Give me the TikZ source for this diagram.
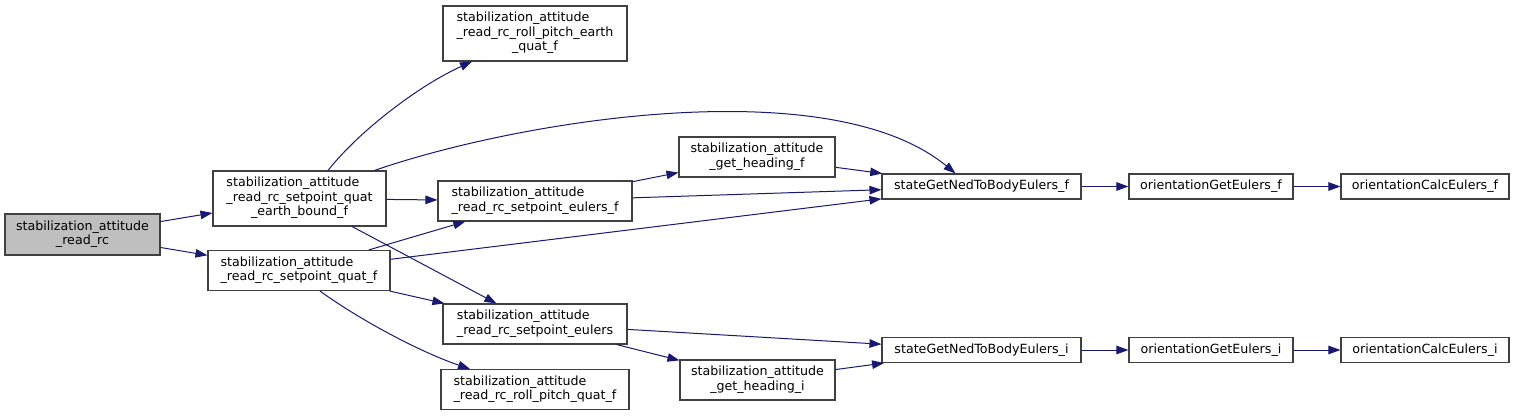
\documentclass[tikz,border=0pt]{standalone}
\usepackage{fontspec}
\setmainfont{DejaVu Sans}
\usetikzlibrary{arrows.meta}
\definecolor{edgeblue}{RGB}{25,25,112}
\definecolor{boxgray}{RGB}{191,191,191}
\newcommand{\twolines}[2]{\begin{tabular}{@{}l@{}}#1\\\multicolumn{1}{@{}c@{}}{#2}\end{tabular}}
\newcommand{\threelines}[3]{\begin{tabular}{@{}l@{}}#1\\#2\\\multicolumn{1}{@{}c@{}}{#3}\end{tabular}}
\begin{document}
\begin{tikzpicture}[x=1pt,y=-1pt,
  fn/.style={draw=black!75, line width=1.1pt, inner sep=0pt, fill=white,
    font=\fontsize{12.65}{14.5}\selectfont, text=black},
  conn/.style={draw=edgeblue, line width=1pt, -{Triangle[length=12pt,width=8.5pt]}}]
\useasboundingbox (0,0) rectangle (1515,417);

\node[fn, fill=boxgray, minimum width=155pt, minimum height=41pt] (A) at (82.5,234.5)
  {\twolines{stabilization\_attitude}{\_read\_rc}};
\node[fn, minimum width=173pt, minimum height=55pt] (B) at (299.5,198.5)
  {\threelines{stabilization\_attitude}{\_read\_rc\_setpoint\_quat}{\_earth\_bound\_f}};
\node[fn, minimum width=182pt, minimum height=40pt] (C) at (299,270.5)
  {\twolines{stabilization\_attitude}{\_read\_rc\_setpoint\_quat\_f}};
\node[fn, minimum width=184pt, minimum height=55pt] (D) at (535,33.5)
  {\threelines{stabilization\_attitude}{\_read\_rc\_roll\_pitch\_earth}{\_quat\_f}};
\node[fn, minimum width=194pt, minimum height=40pt] (E) at (535,201)
  {\twolines{stabilization\_attitude}{\_read\_rc\_setpoint\_eulers\_f}};
\node[fn, minimum width=156pt, minimum height=40pt] (F) at (757,157)
  {\twolines{stabilization\_attitude}{\_get\_heading\_f}};
\node[fn, minimum width=184pt, minimum height=40pt] (G) at (535,324)
  {\twolines{stabilization\_attitude}{\_read\_rc\_setpoint\_eulers}};
\node[fn, minimum width=188pt, minimum height=40pt] (H) at (535,389.5)
  {\twolines{stabilization\_attitude}{\_read\_rc\_roll\_pitch\_quat\_f}};
\node[fn, minimum width=155pt, minimum height=40pt] (I) at (757.5,380)
  {\twolines{stabilization\_attitude}{\_get\_heading\_i}};
\node[fn, minimum width=199pt, minimum height=25pt] (J) at (981.5,186.5) {stateGetNedToBodyEulers\_f};
\node[fn, minimum width=199pt, minimum height=25pt] (J2) at (981.5,350) {stateGetNedToBodyEulers\_i};
\node[fn, minimum width=164pt, minimum height=25pt] (K) at (1211,186.5) {orientationGetEulers\_f};
\node[fn, minimum width=168pt, minimum height=25pt] (L) at (1425,186.5) {orientationCalcEulers\_f};
\node[fn, minimum width=164pt, minimum height=25pt] (K2) at (1211,350) {orientationGetEulers\_i};
\node[fn, minimum width=168pt, minimum height=25pt] (L2) at (1425,350) {orientationCalcEulers\_i};

\draw[conn] (A) -- (B);
\draw[conn] (A) -- (C);
\draw[conn] (B) -- (E);
\draw[conn] (B) -- (G);
\draw[conn] (C) -- (E);
\draw[conn] (C) -- (J);
\draw[conn] (C) -- (G);
\draw[conn] (E) -- (F);
\draw[conn] (E) -- (J);
\draw[conn] (F) -- (J);
\draw[conn] (G) -- (J2);
\draw[conn] (G) -- (I);
\draw[conn] (I) -- (J2);
\draw[conn] (J) -- (K);
\draw[conn] (K) -- (L);
\draw[conn] (J2) -- (K2);
\draw[conn] (K2) -- (L2);
\draw[conn] ([xshift=28.5pt]B.north) .. controls (360,130) and (420,85) .. ([xshift=-63pt]D.south);
\draw[conn] ([xshift=75pt]B.north) .. controls (520,120) and (830,70) .. ([xshift=-26pt]J.north);
\draw[conn] ([xshift=21pt]C.south) .. controls (360,320) and (420,352) .. ([xshift=-65pt]H.north);
\end{tikzpicture}
\end{document}
